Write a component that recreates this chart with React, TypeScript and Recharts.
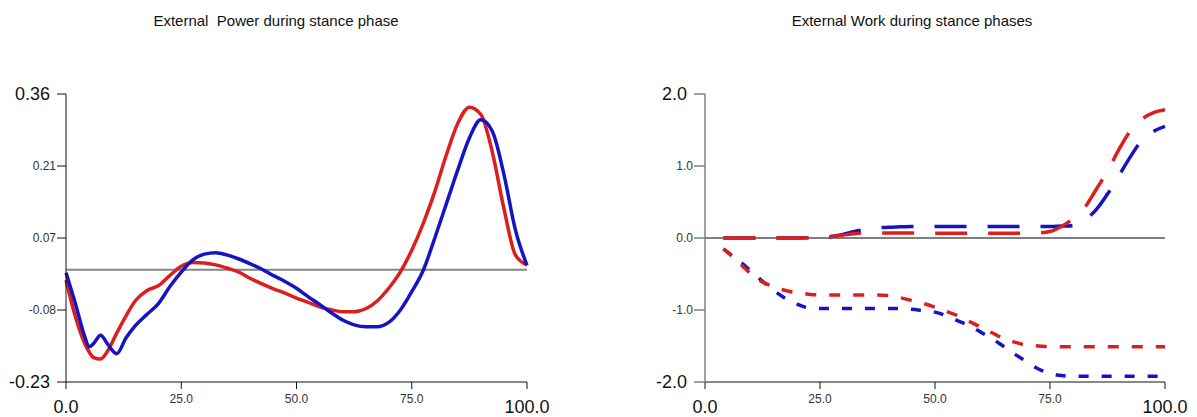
import { LineChart, Line, XAxis, YAxis, ReferenceLine } from "recharts";

const RED = "#dc1e1e";
const BLUE = "#1414c4";

// external power (stance %, left chart)
const powerX = [0, 2, 4, 5, 6, 7.5, 9, 11, 13, 15, 17.5, 20, 22.5, 25, 27.5, 30, 32.5, 35, 37.5, 40, 42.5, 45, 47.5, 50, 52.5, 55, 57.5, 60, 62.5, 65, 67.5, 70, 72.5, 75, 77.5, 80, 82.5, 85, 87.5, 90, 92.5, 95, 97.5, 100];
const powerRed = [-0.021, -0.095, -0.15, -0.168, -0.18, -0.183, -0.167, -0.13, -0.095, -0.064, -0.043, -0.033, -0.012, 0.007, 0.015, 0.014, 0.01, 0.003, -0.005, -0.018, -0.029, -0.039, -0.048, -0.058, -0.067, -0.076, -0.082, -0.086, -0.086, -0.08, -0.064, -0.038, -0.005, 0.04, 0.095, 0.16, 0.235, 0.3, 0.333, 0.318, 0.24, 0.125, 0.03, 0.01];
const powerBlue = [-0.006, -0.068, -0.135, -0.158, -0.151, -0.134, -0.152, -0.172, -0.14, -0.115, -0.092, -0.07, -0.035, -0.005, 0.02, 0.032, 0.035, 0.03, 0.022, 0.012, 0.001, -0.012, -0.024, -0.038, -0.055, -0.071, -0.088, -0.103, -0.113, -0.117, -0.117, -0.108, -0.083, -0.045, -0.001, 0.065, 0.135, 0.205, 0.27, 0.307, 0.283, 0.195, 0.081, 0.009];
const powerTicks = [-0.23, -0.0825, 0.065, 0.2125, 0.36];

// external work (right chart)
const workX = [4, 6, 8, 10, 12.5, 15, 17.5, 20, 22.5, 25, 27.5, 30, 32.5, 35, 37.5, 40, 42.5, 45, 47.5, 50, 52.5, 55, 57.5, 60, 62.5, 65, 67.5, 70, 72.5, 75, 77.5, 80, 82.5, 85, 87.5, 90, 92.5, 95, 97.5, 100];
const workRedUp = [0, 0, 0, 0, 0, 0, 0, 0, 0.005, 0.01, 0.02, 0.04, 0.06, 0.07, 0.07, 0.07, 0.07, 0.07, 0.068, 0.066, 0.065, 0.065, 0.065, 0.065, 0.065, 0.065, 0.065, 0.065, 0.07, 0.09, 0.16, 0.27, 0.42, 0.67, 0.93, 1.23, 1.49, 1.65, 1.74, 1.78];
const workBlueUp = [0, 0, 0, 0, 0, 0, 0, 0, 0.005, 0.01, 0.02, 0.05, 0.09, 0.12, 0.14, 0.15, 0.155, 0.16, 0.16, 0.16, 0.16, 0.16, 0.16, 0.16, 0.16, 0.16, 0.16, 0.16, 0.16, 0.16, 0.165, 0.17, 0.25, 0.39, 0.61, 0.87, 1.13, 1.36, 1.48, 1.55];
const workRedLow = [-0.15, -0.26, -0.38, -0.5, -0.61, -0.68, -0.73, -0.76, -0.78, -0.79, -0.79, -0.79, -0.79, -0.79, -0.79, -0.8, -0.83, -0.87, -0.91, -0.96, -1.02, -1.08, -1.16, -1.24, -1.32, -1.4, -1.45, -1.49, -1.5, -1.51, -1.51, -1.51, -1.51, -1.51, -1.51, -1.51, -1.51, -1.51, -1.51, -1.51];
const workBlueLow = [-0.15, -0.25, -0.35, -0.46, -0.6, -0.73, -0.84, -0.92, -0.97, -0.98, -0.98, -0.98, -0.98, -0.98, -0.98, -0.98, -0.98, -0.99, -1.01, -1.03, -1.08, -1.15, -1.22, -1.31, -1.4, -1.51, -1.62, -1.72, -1.82, -1.88, -1.91, -1.92, -1.92, -1.92, -1.92, -1.92, -1.92, -1.92, -1.92, -1.92];
const workTicks = [-2, -1, 0, 1, 2];

const xTicks = [0, 25, 50, 75, 100];

const powerData = powerX.map((x, i) => ({ x, red: powerRed[i], blue: powerBlue[i] }));
const workData = workX.map((x, i) => ({
  x,
  redUp: workRedUp[i],
  blueUp: workBlueUp[i],
  redLow: workRedLow[i],
  blueLow: workBlueLow[i],
}));

const FONT = "Liberation Sans, Arial, sans-serif";

function makeYTick(lo: number, hi: number, digits: number) {
  return (p: any) => {
    const v = p.payload.value;
    const big = Math.abs(v - lo) < 1e-6 || Math.abs(v - hi) < 1e-6;
    return (
      <text
        x={big ? p.x - 5 : p.x + 1}
        y={p.y}
        dy={big ? 6 : 4}
        textAnchor="end"
        fontFamily={FONT}
        fontSize={big ? 18 : 12}
        fill={big ? "#111" : "#333"}
      >
        {v.toFixed(digits)}
      </text>
    );
  };
}

function XTick(p: any) {
  const v = p.payload.value;
  const big = v === 0 || v === 100;
  return (
    <text
      x={p.x}
      y={p.y}
      dy={big ? 22 : 12}
      textAnchor="middle"
      fontFamily={FONT}
      fontSize={big ? 18 : 12}
      fill={big ? "#111" : "#333"}
    >
      {v.toFixed(1)}
    </text>
  );
}

const titleStyle: React.CSSProperties = {
  position: "absolute",
  top: 12,
  fontFamily: FONT,
  fontSize: 15,
  color: "#111",
  whiteSpace: "pre",
  transform: "translateX(-50%)",
};

export default function App() {
  return (
    <div style={{ position: "absolute", left: 0, top: 0, width: 1197, height: 417, background: "#fff" }}>
      <div style={{ ...titleStyle, left: 276 }}>External  Power during stance phase</div>
      <div style={{ ...titleStyle, left: 912 }}>External Work during stance phases</div>

      <div style={{ position: "absolute", left: 0, top: 0 }}>
        <LineChart width={598} height={417} data={powerData} margin={{ top: 94, right: 71, bottom: 5, left: 6 }}>
          <XAxis
            dataKey="x"
            type="number"
            domain={[0, 100]}
            ticks={xTicks}
            height={30}
            tickSize={7}
            stroke="#111"
            tick={XTick}
          />
          <YAxis
            type="number"
            domain={[-0.23, 0.36]}
            ticks={powerTicks}
            width={60}
            tickSize={9}
            stroke="#111"
            tick={makeYTick(-0.23, 0.36, 2)}
          />
          <ReferenceLine y={0} stroke="#858585" strokeWidth={2} />
          <Line type="monotone" dataKey="red" stroke={RED} strokeWidth={3.5} dot={false} isAnimationActive={false} />
          <Line type="monotone" dataKey="blue" stroke={BLUE} strokeWidth={3.5} dot={false} isAnimationActive={false} />
        </LineChart>
      </div>

      <div style={{ position: "absolute", left: 598, top: 0 }}>
        <LineChart width={599} height={417} data={workData} margin={{ top: 94, right: 32, bottom: 5, left: 47 }}>
          <XAxis
            dataKey="x"
            type="number"
            domain={[0, 100]}
            ticks={xTicks}
            height={30}
            tickSize={7}
            stroke="#111"
            tick={XTick}
          />
          <YAxis
            type="number"
            domain={[-2, 2]}
            ticks={workTicks}
            width={60}
            tickSize={11}
            stroke="#808080"
            strokeWidth={1.5}
            tick={makeYTick(-2, 2, 1)}
          />
          <ReferenceLine y={0} stroke="#000" strokeWidth={1.2} />
          <Line type="monotone" dataKey="blueUp" stroke={BLUE} strokeWidth={3.5} strokeDasharray="32 21" dot={false} isAnimationActive={false} />
          <Line type="monotone" dataKey="redUp" stroke={RED} strokeWidth={3.5} strokeDasharray="32 21" dot={false} isAnimationActive={false} />
          <Line type="monotone" dataKey="blueLow" stroke={BLUE} strokeWidth={3.5} strokeDasharray="10 13" dot={false} isAnimationActive={false} />
          <Line type="monotone" dataKey="redLow" stroke={RED} strokeWidth={3.5} strokeDasharray="11 13" dot={false} isAnimationActive={false} />
        </LineChart>
      </div>
    </div>
  );
}
